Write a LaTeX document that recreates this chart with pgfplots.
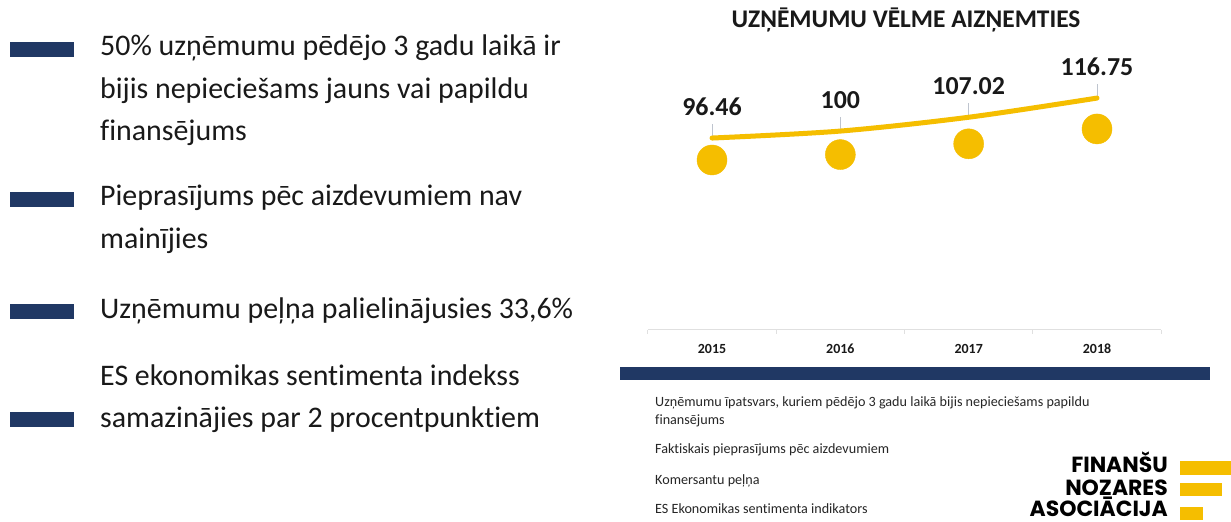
\documentclass[border=0pt]{standalone}
\usepackage{fontspec}
\setmainfont{Carlito}[Ligatures=NoCommon]
\newfontfamily\logofont{Poppins}
\usepackage{pgfplots}
\usepackage{pgfplotstable}
\pgfplotsset{compat=1.18}
\definecolor{gold}{RGB}{245,190,0}
\definecolor{navy}{RGB}{32,56,100}
\definecolor{leadgray}{RGB}{190,196,206}
\pgfplotstableread{
year value
2015 96.46
2016 100
2017 107.02
2018 116.75
}\datatable
\begin{document}
\begin{tikzpicture}[x=1bp,y=1bp]
\path[use as bounding box,fill=white] (0,0) rectangle (1231,522);
% left bullets
\foreach \c in {472,322,210,102}{\fill[navy] (10,\c-7.5) rectangle (74,\c+7.5);}
\begin{scope}[every node/.style={anchor=base west,inner sep=0pt,font=\fontsize{30}{36}\selectfont,text=black!90}]
\node at (100,466) {50\% uzņēmumu pēdējo 3 gadu laikā ir};
\node at (100,423) {bijis nepieciešams jauns vai papildu};
\node at (100,381) {finansējums};
\node at (100,316) {Pieprasījums pēc aizdevumiem nav};
\node at (100,273) {mainījies};
\node at (100,203) {Uzņēmumu peļņa palielinājusies 33,6\%};
\node at (100,136) {ES ekonomikas sentimenta indekss};
\node at (100,94) {samazinājies par 2 procentpunktiem};
\end{scope}
% title
\node[anchor=base,inner sep=0pt,font=\fontsize{25.5}{30}\selectfont\bfseries,text=black!90] at (906,494) {UZŅĒMUMU VĒLME AIZŅEMTIES};
% main axis
\begin{axis}[
  at={(647.83bp,192bp)}, anchor=south west,
  scale only axis, width=513.33bp, height=258bp,
  xmin=2014.5, xmax=2018.5, ymin=-1, ymax=130,
  axis x line*=bottom, axis y line=none,
  x axis line style={draw=black!12, line width=1bp},
  xtick={2015,2016,2017,2018}, xticklabels={2015,2016,2017,2018},
  major tick length=0pt,
  minor xtick={2014.5,2015.5,2016.5,2017.5,2018.5},
  minor tick length=4bp, tick align=outside,
  minor tick style={draw=black!12, line width=1bp},
  xticklabel style={font=\fontsize{14}{14}\selectfont\bfseries, anchor=base, inner sep=0pt, yshift=-24bp, text=black!90},
  /pgf/number format/assume math mode=true,
  clip=false,
]
\addplot[draw=none, mark=none, forget plot,
  error bars/.cd, y dir=plus, y fixed=7, error mark=none,
  error bar style={solid, draw=leadgray, line width=1bp}]
  table[x=year,y=value] {\datatable};
\addplot[draw=gold, line width=5bp, line cap=round, smooth, mark=none,
  nodes near coords,
  nodes near coords style={anchor=base, inner sep=0pt, yshift=23bp,
    font=\fontsize{26}{30}\selectfont\bfseries, text=black!90}]
  table[x=year,y=value] {\datatable};
\end{axis}
% circles axis
\begin{axis}[
  at={(647.83bp,192bp)}, anchor=south west,
  scale only axis, width=513.33bp, height=258bp,
  xmin=2014.5, xmax=2018.5, ymin=-14.65, ymax=153.98,
  hide axis, clip=false,
]
\addplot[only marks, color=gold, mark=*, mark size=15bp, mark options={fill=gold, draw=gold, solid}]
  table[x=year,y=value] {\datatable};
\end{axis}
% blue bar
\fill[navy] (620,142) rectangle (1210,155);
% small texts
\begin{scope}[every node/.style={anchor=base west,inner sep=0pt,font=\fontsize{14.2}{16}\selectfont,text=black!85}]
\node at (655,115) {Uzņēmumu īpatsvars, kuriem pēdējo 3 gadu laikā bijis nepieciešams papildu};
\node at (655,97) {finansējums};
\node at (655,68) {Faktiskais pieprasījums pēc aizdevumiem};
\node at (655,37) {Komersantu peļņa};
\node at (655,8) {ES Ekonomikas sentimenta indikators};
\end{scope}
% logo
\begin{scope}[every node/.style={anchor=base east,inner sep=0pt,font=\logofont\bfseries\fontsize{22}{24}\selectfont}]
\node at (1168,49) {FINANŠU};
\node at (1168,26) {NOZARES};
\node at (1168,5) {ASOCIĀCIJA};
\end{scope}
\fill[gold] (1180,47) rectangle (1231,61);
\fill[gold] (1180,26) rectangle (1222,39);
\fill[gold] (1180,2) rectangle (1203,15);
\end{tikzpicture}
\end{document}
